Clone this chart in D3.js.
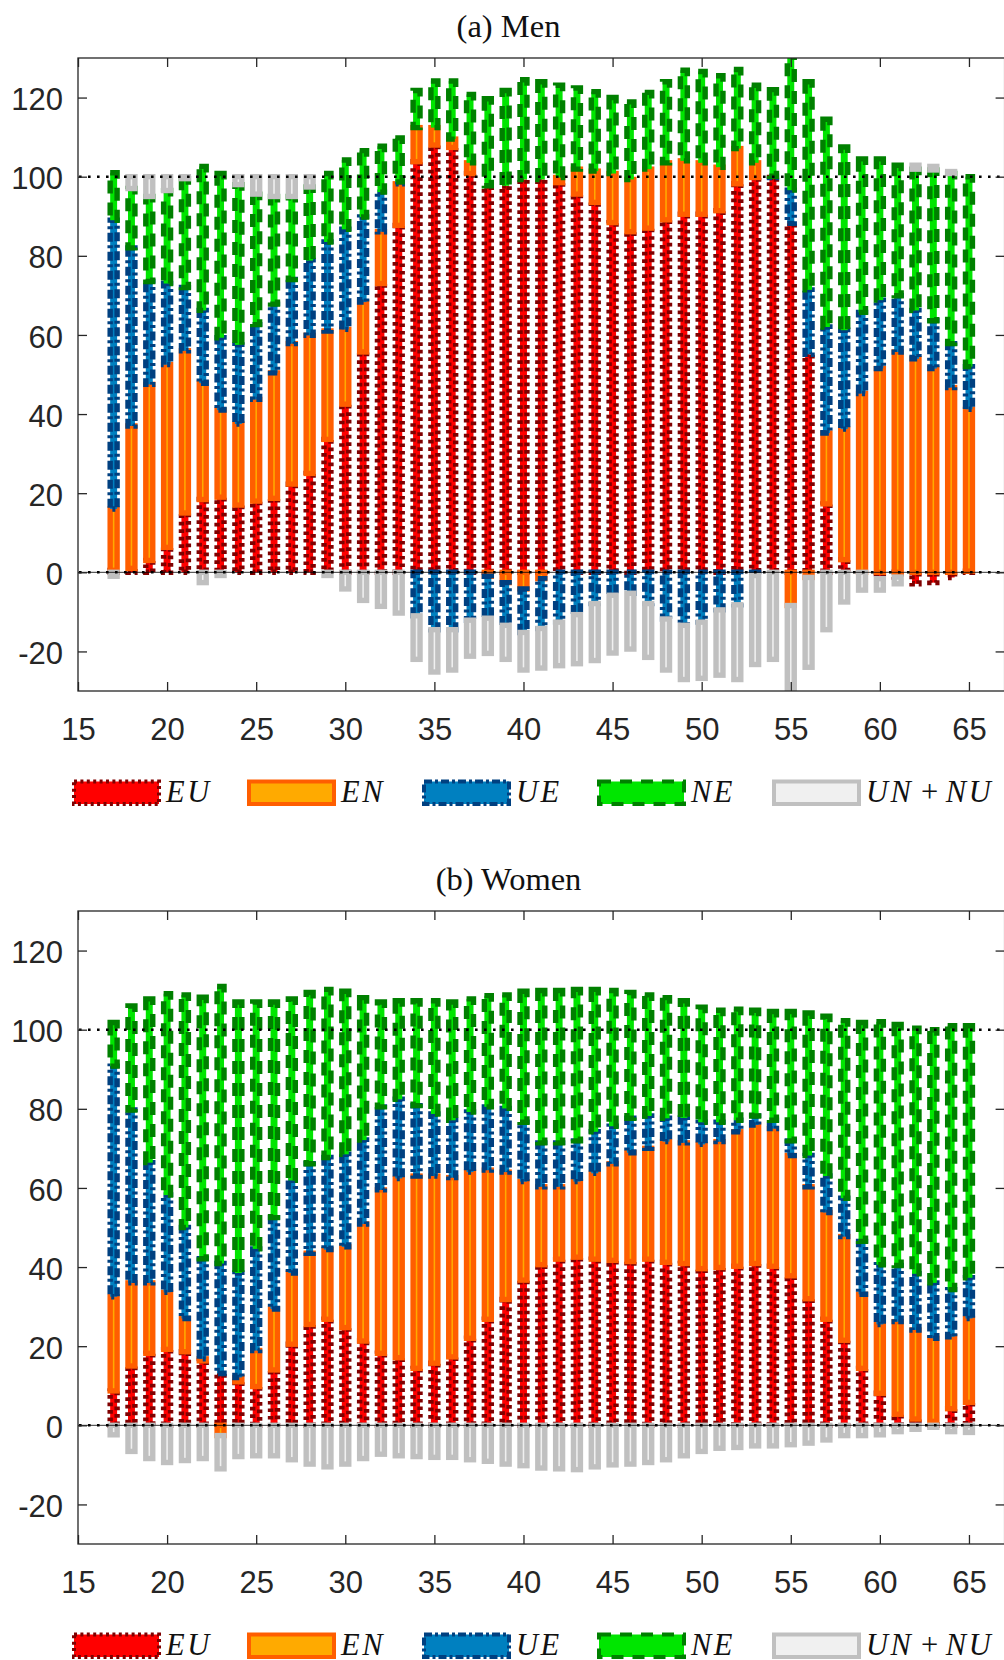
<!DOCTYPE html>
<html>
<head>
<meta charset="utf-8">
<script src="https://cdn.jsdelivr.net/npm/d3@7"></script>
<style>
  body { margin: 0; background: #fff; }
  svg { display: block; }
</style>
</head>
<body>
<svg id="chart" width="1004" height="1660"></svg>
<script>
// ages on the x axis
var ages = [17, 18, 19, 20, 21, 22, 23, 24, 25, 26,
  27, 28, 29, 30, 31, 32, 33, 34, 35, 36,
  37, 38, 39, 40, 41, 42, 43, 44, 45, 46,
  47, 48, 49, 50, 51, 52, 53, 54, 55, 56,
  57, 58, 59, 60, 61, 62, 63, 64, 65];

// (a) Men
var menEU = [0.5, 1, 3, 6.3, 15, 18.4, 19, 17, 18, 18.7,
  22.3, 25, 33.6, 42.5, 55.7, 73, 87.7, 103.8, 108, 107.4,
  100.8, 97.7, 97.7, 99.3, 99.3, 98.5, 95.6, 93.5, 88.4, 86.1,
  87, 89.1, 90.5, 90.5, 91.4, 98.2, 99.8, 99.8, 88.2, 55.1,
  17.3, 3.2, 0, -1.6, -1.2, -2.9, -2.6, -1.3, 0.3];
var menEN = [15.5, 36, 44.5, 46.2, 41, 29.4, 22, 20.5, 25.7, 31.7,
  35.5, 34.9, 27.4, 18.9, 12.6, 13.1, 10.5, 8.6, 4.4, 2.1,
  2.7, -1, -2.6, -4.2, -1.6, 1.3, 6.3, 7.9, 12.4, 13.2,
  14.9, 14.4, 13.5, 13, 11, 8.9, 3.7, 0, -8.4, -1.3,
  17.9, 33, 45.2, 51.5, 55.7, 54, 51.5, 46.7, 40.9];
var menUE = [73, 45, 26, 20.5, 16, 18.4, 18.3, 20, 18.9, 17.4,
  16.2, 18.9, 22.5, 25.3, 21.5, 10, 0.5, -11, -14.5, -14.5,
  -12.1, -10.6, -10.8, -11, -12.6, -12.6, -10.7, -7.9, -5.8, -5.3,
  -7.9, -11.8, -13.4, -12.6, -9.5, -8.2, -0.8, 0.3, 8.4, 16.3,
  26.8, 25, 20.5, 17.3, 14.2, 12.2, 12.1, 11.1, 10.8];
var menNE = [12, 15, 21.5, 23.5, 27.5, 36.4, 41.5, 40.5, 33, 27.2,
  21, 18.6, 17.3, 17.5, 16.8, 11.6, 11.1, 9.4, 11.8, 14.7,
  17.3, 22, 24.1, 25.2, 24.7, 23.3, 20.5, 20.1, 19.2, 19.6,
  19.4, 20.5, 22.9, 23.1, 23.1, 20, 19.6, 21.9, 34.4, 52.6,
  52.5, 46.3, 38.8, 35.7, 33, 35.7, 38.1, 43, 48];
var menUN = [-1, 3, 5, 3.5, 0.5, -2.6, -0.8, 2, 4.4, 5,
  5, 2.6, -0.8, -4.2, -7.1, -8.6, -10.3, -11, -10.7, -10.2,
  -9.1, -8.9, -8.6, -9.5, -10, -11, -12.4, -14.4, -14.6, -14.1,
  -13.6, -12.9, -13.7, -14.2, -16.5, -18.9, -22.5, -22, -22.6, -22.7,
  -14.5, -7.5, -4.5, -2.9, -1.7, 1, 0.9, 0.5, 0];

// (b) Women
var womenEU = [8.7, 15, 18.2, 19.2, 18.6, 16.3, 13.1, 11, 9.8, 14,
  20.5, 25.5, 26.8, 24.7, 21.3, 18.2, 17.1, 14.4, 15.7, 17.3,
  22, 26.8, 31.8, 36.7, 40.6, 42, 42.5, 42, 41.7, 41.4,
  42, 41.2, 40.9, 39.6, 39.9, 40.2, 40.9, 40.2, 37.8, 32,
  26.8, 21.5, 14.4, 8.1, 2.8, 1.6, 1, 4.2, 5.8];
var womenEN = [23.8, 21, 17.8, 14.4, 8.4, 0.5, -2.6, 1.1, 9.1, 15.4,
  18, 18, 17.6, 20.4, 29.6, 41.3, 45.3, 48.6, 47.3, 45.3,
  42, 37.7, 32.2, 24.9, 19.7, 18.3, 19.1, 21.7, 24.4, 27.5,
  28, 30.5, 30.5, 31.4, 31.8, 34, 35, 34.8, 30.4, 28.3,
  27, 26.2, 18.7, 17.4, 23.4, 22.5, 21, 18.2, 21.2];
var womenUE = [58.3, 43.7, 30.4, 24.6, 23, 25.3, 27.8, 26.4, 25.7, 23.1,
  23.4, 22.6, 23.3, 23.4, 21.2, 21, 20, 17.8, 15.7, 14.5,
  15.2, 16, 16.1, 15, 11.1, 11.1, 10.3, 10.5, 9.5, 8.7,
  8.2, 5.9, 6.3, 5.6, 4.9, 2.9, 2.3, 2.1, 3.7, 7.9,
  9.2, 9.7, 13.4, 15.1, 14.2, 14.2, 14, 11.9, 10.3];
var womenNE = [11, 26.3, 41.4, 50.9, 58.8, 66.1, 70, 68.5, 62.4, 54.5,
  45.9, 43.3, 42.5, 41.2, 36, 26.5, 24.9, 26.5, 28.6, 29.9,
  28.6, 28.1, 28.7, 33.1, 38.5, 38.5, 38.3, 36, 34.3, 31.8,
  30.6, 30.5, 29.6, 29.1, 28.3, 28.1, 26.7, 27.5, 32.7, 36,
  40.4, 44.9, 55.3, 61.4, 60.9, 62.1, 64, 66.7, 63.7];
var womenUN = [-2.4, -6.6, -8.4, -9.4, -8.9, -8.4, -8.4, -7.9, -7.7, -7.7,
  -8.7, -9.8, -10.5, -9.8, -8.4, -7.3, -7.7, -7.9, -8.1, -8.1,
  -8.7, -9.1, -9.8, -10.2, -10.8, -11, -11.2, -10.5, -10, -9.8,
  -9.4, -8.7, -7.7, -6.6, -5.8, -5.6, -5.2, -5.2, -4.9, -4.5,
  -3.7, -2.6, -2.6, -2.4, -1.6, -1, -0.5, -1.6, -1.8];

var keys = ['EU', 'EN', 'UE', 'NE', 'UN'];
var labels = ['EU', 'EN', 'UE', 'NE', 'UN + NU'];
var xTicks = [15, 20, 25, 30, 35, 40, 45, 50, 55, 60, 65];
var yTicks = [-20, 0, 20, 40, 60, 80, 100, 120];
var refLines = [0, 100];

// look of each series: fill, edge, edge pattern
var styles = {
  EU: {fill: '#ff0000', edge: '#800000', dash: '3.7,3.8', ldash: '3,3.4'},
  EN: {fill: '#ffaa00', edge: '#ff5e00', dash: null, ldash: null},
  UE: {fill: '#0080c0', edge: '#004080', dash: '9,3.5,3,3.5', ldash: '8,3,3,3'},
  NE: {fill: '#00e600', edge: '#008000', dash: '13,9', ldash: '12,9'},
  UN: {fill: '#f0f0f0', edge: '#c0c0c0', dash: null, ldash: null}
};

var axisColor = '#262626';
var svg = d3.select('#chart');

var panel = function(cfg) {
  var left = 78, right = 1004.6;
  var x = d3.scaleLinear().domain([15, 67]).range([left, right]);
  var y = d3.scaleLinear().domain([-30, 130]).range([cfg.top + 633, cfg.top]);

  var rows = ages.map(function(a, i) {
    var r = {age: a};
    keys.forEach(function(k) { r[k] = cfg.data[k][i]; });
    return r;
  });
  var series = d3.stack().keys(keys).offset(d3.stackOffsetDiverging)(rows);

  svg.append('clipPath').attr('id', 'clip' + cfg.id)
    .append('rect').attr('x', left).attr('y', cfg.top)
    .attr('width', right - left).attr('height', 633);

  var bw = x(15.39) - x(15);
  var bars = svg.append('g').attr('clip-path', 'url(#clip' + cfg.id + ')');
  series.forEach(function(s) {
    var st = styles[s.key];
    bars.append('g').selectAll('rect')
      .data(s.filter(function(d) { return d[1] !== d[0]; }))
      .enter().append('rect')
        .attr('x', function(d) { return x(d.data.age) - bw / 2; })
        .attr('y', function(d) { return y(d[1]); })
        .attr('width', bw)
        .attr('height', function(d) { return y(d[0]) - y(d[1]); })
        .attr('fill', st.fill)
        .attr('stroke', st.edge)
        .attr('stroke-width', 5.4)
        .attr('stroke-dasharray', st.dash);
  });

  // bar baseline and dotted reference lines
  svg.append('line')
    .attr('x1', left).attr('x2', right).attr('y1', y(0)).attr('y2', y(0))
    .attr('stroke', '#000').attr('stroke-width', 0.8);
  refLines.forEach(function(v) {
    svg.append('line')
      .attr('x1', left + 1).attr('x2', right).attr('y1', y(v)).attr('y2', y(v))
      .attr('stroke', '#000').attr('stroke-width', 2.6)
      .attr('stroke-dasharray', '2.6,6.4');
  });

  // axes, ticks inward on all four sides
  var fmt = function(d) { return String(d); };
  var none = function() { return ''; };
  var axes = [
    {a: d3.axisLeft(y).tickValues(yTicks).tickFormat(fmt).tickPadding(15), t: 'translate(' + left + ',0)', dy: '0.39em'},
    {a: d3.axisRight(y).tickValues(yTicks).tickFormat(none), t: 'translate(' + right + ',0)'},
    {a: d3.axisBottom(x).tickValues(xTicks).tickFormat(fmt).tickPadding(27), t: 'translate(0,' + y(-30) + ')'},
    {a: d3.axisTop(x).tickValues(xTicks).tickFormat(none), t: 'translate(0,' + y(130) + ')'}
  ];
  axes.forEach(function(o) {
    var g = svg.append('g').attr('transform', o.t)
      .call(o.a.tickSizeInner(-9).tickSizeOuter(0));
    g.select('.domain').remove();
    g.selectAll('line').attr('stroke', axisColor).attr('stroke-width', 1.3);
    g.selectAll('text').attr('fill', axisColor)
      .attr('font-family', 'Liberation Sans, Arial, sans-serif').attr('font-size', 31);
    if (o.dy) g.selectAll('text').attr('dy', o.dy);
  });
  svg.append('rect')
    .attr('x', left).attr('y', cfg.top).attr('width', right - left).attr('height', 633)
    .attr('fill', 'none').attr('stroke', axisColor).attr('stroke-width', 1.3);

  // title
  svg.append('text')
    .attr('x', 508.5).attr('y', cfg.top - 21)
    .attr('text-anchor', 'middle')
    .attr('font-family', 'Liberation Serif, serif').attr('font-size', 32.5)
    .attr('fill', '#111')
    .text(cfg.title);

  // legend
  var ly = cfg.top + 723.5;
  keys.forEach(function(k, i) {
    var st = styles[k];
    var px = 74 + i * 175;
    svg.append('rect')
      .attr('x', px).attr('y', ly).attr('width', 85).attr('height', 22.5)
      .attr('fill', st.fill).attr('stroke', st.edge).attr('stroke-width', 4)
      .attr('stroke-dasharray', st.ldash);
    var t = svg.append('text')
      .attr('x', px + 92).attr('y', ly + 20)
      .attr('font-family', 'Liberation Serif, serif').attr('font-size', 30.5)
      .attr('fill', '#111');
    labels[i].split(' + ').forEach(function(part, j) {
      if (j > 0) t.append('tspan').text(' + ');
      t.append('tspan').attr('font-style', 'italic').attr('letter-spacing', 2.5).text(part);
    });
  });
};

panel({id: 'men', title: '(a) Men', top: 58,
  data: {EU: menEU, EN: menEN, UE: menUE, NE: menNE, UN: menUN}});
panel({id: 'women', title: '(b) Women', top: 911,
  data: {EU: womenEU, EN: womenEN, UE: womenUE, NE: womenNE, UN: womenUN}});
</script>
</body>
</html>
